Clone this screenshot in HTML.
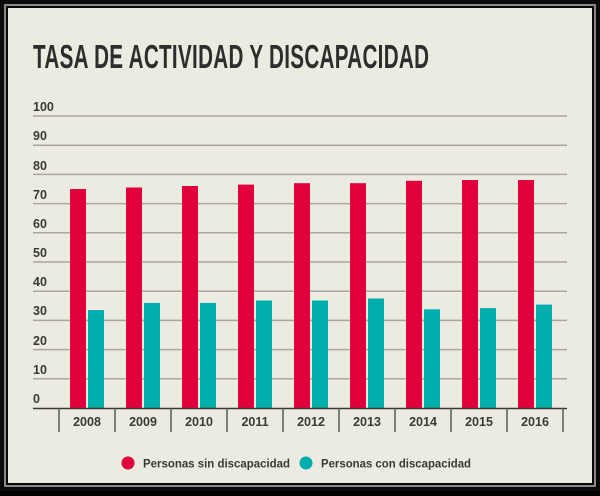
<!DOCTYPE html>
<html><head><meta charset="utf-8"><style>
body{margin:0;background:#000;width:600px;height:491px;overflow:hidden;font-family:"Liberation Sans",sans-serif}
</style></head><body>
<svg width="600" height="491" xmlns="http://www.w3.org/2000/svg">
<rect x="0" y="0" width="600" height="491" fill="#0a0a0a"/>
<rect x="5" y="5" width="590" height="481" fill="none" stroke="#8a8a86" stroke-width="2"/>
<rect x="8" y="8" width="584" height="475" fill="#ecebe2"/>
<text x="33" y="68" font-size="33" font-weight="bold" fill="#2e2d2c" transform="translate(33 0) scale(0.625 1) translate(-33 0)" letter-spacing="0.5">TASA DE ACTIVIDAD Y DISCAPACIDAD</text>
<g stroke="#a9a79c" stroke-width="1.5">
<line x1="33" x2="567" y1="116" y2="116"/><line x1="33" x2="567" y1="145.2" y2="145.2"/>
<line x1="33" x2="567" y1="174.4" y2="174.4"/><line x1="33" x2="567" y1="203.6" y2="203.6"/>
<line x1="33" x2="567" y1="232.8" y2="232.8"/><line x1="33" x2="567" y1="262" y2="262"/>
<line x1="33" x2="567" y1="291.2" y2="291.2"/><line x1="33" x2="567" y1="320.4" y2="320.4"/>
<line x1="33" x2="567" y1="349.6" y2="349.6"/><line x1="33" x2="567" y1="378.8" y2="378.8"/>
</g>
<g font-size="12.5" font-weight="bold" fill="#3a3936">
<text x="33" y="111">100</text><text x="33" y="140">90</text><text x="33" y="170">80</text>
<text x="33" y="199">70</text><text x="33" y="228">60</text><text x="33" y="257">50</text>
<text x="33" y="286">40</text><text x="33" y="315">30</text><text x="33" y="345">20</text>
<text x="33" y="374">10</text><text x="33" y="403">0</text>
</g>
<g fill="#e2003c">
<rect x="70" y="189" width="16" height="219"/><rect x="126" y="187.5" width="16" height="220.5"/>
<rect x="182" y="186" width="16" height="222"/><rect x="238" y="184.6" width="16" height="223.4"/>
<rect x="294" y="183.2" width="16" height="224.8"/><rect x="350" y="183.2" width="16" height="224.8"/>
<rect x="406" y="180.8" width="16" height="227.2"/><rect x="462" y="180" width="16" height="228"/>
<rect x="518" y="180" width="16" height="228"/>
</g>
<g fill="#00adad">
<rect x="88" y="310" width="16" height="98"/><rect x="144" y="302.9" width="16" height="105.1"/>
<rect x="200" y="302.9" width="16" height="105.1"/><rect x="256" y="300.5" width="16" height="107.5"/>
<rect x="312" y="300.5" width="16" height="107.5"/><rect x="368" y="298.5" width="16" height="109.5"/>
<rect x="424" y="309.3" width="16" height="98.7"/><rect x="480" y="308.1" width="16" height="99.9"/>
<rect x="536" y="304.6" width="16" height="103.4"/>
</g>
<line x1="33" x2="567" y1="408.5" y2="408.5" stroke="#3a3936" stroke-width="1.5"/>
<g stroke="#5a5955" stroke-width="1.5">
<line x1="59" x2="59" y1="408" y2="432"/><line x1="115" x2="115" y1="408" y2="432"/>
<line x1="171" x2="171" y1="408" y2="432"/><line x1="227" x2="227" y1="408" y2="432"/>
<line x1="283" x2="283" y1="408" y2="432"/><line x1="339" x2="339" y1="408" y2="432"/>
<line x1="395" x2="395" y1="408" y2="432"/><line x1="451" x2="451" y1="408" y2="432"/>
<line x1="507" x2="507" y1="408" y2="432"/><line x1="563" x2="563" y1="408" y2="432"/>
</g>
<g font-size="12.5" font-weight="bold" fill="#3a3936" text-anchor="middle">
<text x="87" y="426">2008</text><text x="143" y="426">2009</text><text x="199" y="426">2010</text>
<text x="255" y="426">2011</text><text x="311" y="426">2012</text><text x="367" y="426">2013</text>
<text x="423" y="426">2014</text><text x="479" y="426">2015</text><text x="535" y="426">2016</text>
</g>
<circle cx="128" cy="463" r="6.5" fill="#e2003c"/>
<circle cx="306" cy="463" r="6.5" fill="#00adad"/>
<g font-size="12" font-weight="bold" fill="#3a3936">
<text x="143" y="467.5" textLength="147" lengthAdjust="spacingAndGlyphs">Personas sin discapacidad</text>
<text x="321" y="467.5" textLength="150" lengthAdjust="spacingAndGlyphs">Personas con discapacidad</text>
</g>
</svg>
</body></html>
